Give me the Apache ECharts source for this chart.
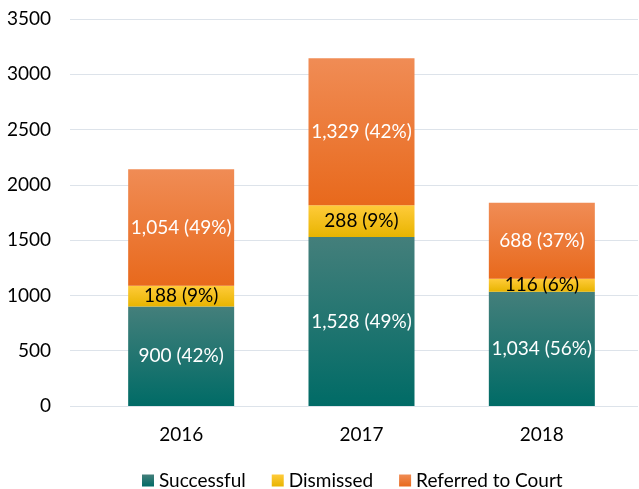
<!DOCTYPE html>
<html>
<head>
<meta charset="utf-8">
<script src="https://cdn.jsdelivr.net/npm/echarts@6/dist/echarts.min.js"></script>
<style>
  html, body { margin: 0; padding: 0; background: #fff; }
  #chart { width: 639px; height: 489px; }
</style>
</head>
<body>
<div id="chart"></div>
<script>
var years = ['2016', '2017', '2018'];
var successful = [900, 1528, 1034];
var dismissed = [188, 288, 116];
var referred = [1054, 1329, 688];
var successfulPct = [42, 49, 56];
var dismissedPct = [9, 9, 6];
var referredPct = [49, 42, 37];
var yTicks = [0, 500, 1000, 1500, 2000, 2500, 3000, 3500];

var fontFamily = 'Lato, "Noto Sans", sans-serif';

function grad(top, bottom) {
    return new echarts.graphic.LinearGradient(0, 0, 0, 1, [
        { offset: 0, color: top },
        { offset: 1, color: bottom }
    ]);
}

function fmt(n) {
    return n.toString().replace(/\B(?=(\d{3})+(?!\d))/g, ',');
}

function makeLabel(pcts, color) {
    return {
        show: true,
        position: 'inside',
        color: color,
        fontSize: 19,
        fontFamily: fontFamily,
        formatter: function (p) {
            return fmt(p.value) + ' (' + pcts[p.dataIndex] + '%)';
        }
    };
}

var chart = echarts.init(document.getElementById('chart'));

chart.setOption({
    animation: false,
    legend: {
        left: 137,
        top: 466,
        itemWidth: 12,
        itemHeight: 12,
        itemGap: 26,
        icon: 'rect',
        textStyle: { fontSize: 19, color: '#000', fontFamily: fontFamily },
        data: ['Successful', 'Dismissed', 'Referred to Court']
    },
    grid: [
        { left: 70, right: 1, top: 19, bottom: 83 },
        { left: 91, right: 7, top: 19, bottom: 83 }
    ],
    xAxis: [
        { gridIndex: 0, type: 'value', show: false },
        {
            gridIndex: 1,
            type: 'category',
            data: years,
            axisLine: { show: false },
            axisTick: { show: false },
            axisLabel: { margin: 19, fontSize: 19, color: '#000', fontFamily: fontFamily }
        }
    ],
    yAxis: [
        {
            gridIndex: 0,
            type: 'value',
            min: yTicks[0],
            max: yTicks[yTicks.length - 1],
            interval: 500,
            axisLine: { show: false },
            axisTick: { show: false },
            splitLine: { lineStyle: { color: '#dde3ea', width: 1 } },
            axisLabel: {
                margin: 19, fontSize: 19, color: '#000', fontFamily: fontFamily,
                formatter: function (v) { return String(v); }
            }
        },
        {
            gridIndex: 1,
            type: 'value',
            min: yTicks[0],
            max: yTicks[yTicks.length - 1],
            show: false
        }
    ],
    series: [
        {
            name: 'Successful',
            type: 'bar',
            stack: 'total',
            xAxisIndex: 1,
            yAxisIndex: 1,
            barWidth: 106,
            data: successful,
            itemStyle: { color: grad('#447f7b', '#006b66') },
            label: makeLabel(successfulPct, '#fff')
        },
        {
            name: 'Dismissed',
            type: 'bar',
            stack: 'total',
            xAxisIndex: 1,
            yAxisIndex: 1,
            barWidth: 106,
            data: dismissed,
            itemStyle: { color: grad('#ffcb3a', '#e8b400') },
            label: makeLabel(dismissedPct, '#000')
        },
        {
            name: 'Referred to Court',
            type: 'bar',
            stack: 'total',
            xAxisIndex: 1,
            yAxisIndex: 1,
            barWidth: 106,
            data: referred,
            itemStyle: { color: grad('#f08c55', '#e8691c') },
            label: makeLabel(referredPct, '#fff')
        }
    ]
});
</script>
</body>
</html>
